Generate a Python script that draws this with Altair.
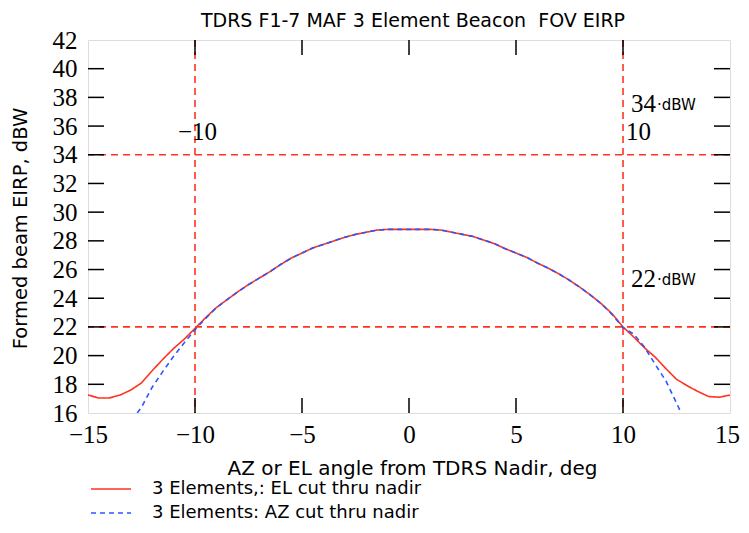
import altair as alt
import pandas as pd

# ---- data ----
el_x = [-15.0, -14.5, -14.0, -13.5, -13.0, -12.5, -12.0, -11.5, -11.0, -10.5, -10.0,
        -9.5, -9.0, -8.5, -8.0, -7.5, -7.0, -6.5, -6.0, -5.5, -5.0, -4.5, -4.0, -3.5,
        -3.0, -2.5, -2.0, -1.5, -1.0, -0.5, 0.0, 0.5, 1.0, 1.5, 2.0, 2.5, 3.0, 3.5,
        4.0, 4.5, 5.0, 5.5, 6.0, 6.5, 7.0, 7.5, 8.0, 8.5, 9.0, 9.5, 10.0, 10.5, 11.0,
        11.5, 12.0, 12.5, 13.0, 13.5, 14.0, 14.5, 15.0]
el_y = [17.25, 17.05, 17.05, 17.25, 17.6, 18.1, 18.95, 19.75, 20.5, 21.15, 21.9,
        22.65, 23.35, 23.9, 24.45, 24.95, 25.4, 25.85, 26.35, 26.8, 27.15, 27.5, 27.75, 28.0,
        28.25, 28.45, 28.6, 28.75, 28.8, 28.8, 28.8, 28.8, 28.8, 28.75, 28.6, 28.45, 28.3, 28.05,
        27.8, 27.45, 27.15, 26.85, 26.45, 26.1, 25.7, 25.25, 24.75, 24.2, 23.6, 22.9, 22.0, 21.3, 20.55,
        19.9, 19.1, 18.35, 17.9, 17.5, 17.15, 17.1, 17.25]

az_x = [-12.7, -12.5, -12.0, -11.5, -11.0, -10.5, -10.0,
        -9.5, -9.0, -8.5, -8.0, -7.5, -7.0, -6.5, -6.0, -5.5, -5.0, -4.5, -4.0, -3.5,
        -3.0, -2.5, -2.0, -1.5, -1.0, -0.5, 0.0, 0.5, 1.0, 1.5, 2.0, 2.5, 3.0, 3.5,
        4.0, 4.5, 5.0, 5.5, 6.0, 6.5, 7.0, 7.5, 8.0, 8.5, 9.0, 9.5, 10.0, 10.5, 11.0,
        11.5, 12.0, 12.5, 12.72]
az_y = [16.0, 16.4, 17.8, 18.9, 19.95, 20.9, 21.8,
        22.6, 23.35, 23.9, 24.45, 24.95, 25.4, 25.85, 26.35, 26.8, 27.15, 27.5, 27.75, 28.0,
        28.25, 28.45, 28.6, 28.75, 28.8, 28.8, 28.8, 28.8, 28.8, 28.75, 28.6, 28.45, 28.3, 28.05,
        27.8, 27.45, 27.15, 26.85, 26.45, 26.1, 25.7, 25.25, 24.75, 24.2, 23.6, 22.85, 21.95, 21.5, 20.6,
        19.4, 18.25, 16.7, 16.0]

series_names = ["3 Elements,: EL cut thru nadir", "3 Elements: AZ cut thru nadir"]
series_colors = ["#ff3320", "#2f55ff"]

x_marker_values = [-10, 10]
y_marker_values = [22, 34]

x_tick_values = [-15, -10, -5, 0, 5, 10, 15]
y_tick_values = [16, 18, 20, 22, 24, 26, 28, 30, 32, 34, 36, 38, 40, 42]
x_minor_ticks = [-10, -5, 0, 5, 10]
y_minor_ticks = [18, 20, 22, 24, 26, 28, 30, 32, 34, 36, 38, 40]

title_text = "TDRS F1-7 MAF 3 Element Beacon\u00a0\u00a0FOV EIRP"
x_title = "AZ or EL angle from TDRS Nadir, deg"
y_title = "Formed beam EIRP, dBW"

W, H = 642, 373
RED = "#ff3320"

curves = pd.concat([
    pd.DataFrame({"x": el_x, "y": el_y, "series": series_names[0], "order": range(len(el_x))}),
    pd.DataFrame({"x": az_x, "y": az_y, "series": series_names[1], "order": range(len(az_x))}),
])

xs = alt.Scale(domain=[-15, 15], nice=False, zero=False)
ys = alt.Scale(domain=[16, 42], nice=False, zero=False)

x_axis = alt.Axis(values=x_tick_values, ticks=False, domain=False, grid=False,
                  labelFont="Liberation Serif", labelFontSize=25, labelColor="black",
                  labelPadding=9, labelFlush=False, labelOverlap=False,
                  labelOffset={"condition": {"test": "datum.value == 15", "value": -3},
                               "value": 0},
                  title=x_title, titleFont="DejaVu Sans",
                  titleFontSize=20, titleFontWeight="normal", titleColor="black",
                  titleX=W / 2 + 3, titleY=55, titleBaseline="middle")
y_axis = alt.Axis(values=y_tick_values, ticks=False, domain=False, grid=False,
                  labelFont="Liberation Serif", labelFontSize=25, labelColor="black",
                  labelPadding=11, labelFlush=False, labelOverlap=False,
                  title=y_title, titleFont="DejaVu Sans",
                  titleFontSize=19.5, titleFontWeight="normal", titleColor="black",
                  titleX=-68, titleY=188, titleAngle=-90, titleBaseline="middle")


def X(field="x"):
    return alt.X(f"{field}:Q", scale=xs, axis=x_axis)


def Y(field="y"):
    return alt.Y(f"{field}:Q", scale=ys, axis=y_axis)


legend = alt.Legend(
    title=None, orient="none", legendX=12, legendY=438, padding=0,
    symbolType="M-2,0L2,0", symbolSize=400, symbolStrokeWidth=1.6,
    labelOffset=30, rowPadding=4, labelFont="DejaVu Sans", labelFontSize=18,
    labelColor="black", labelLimit=500,
)

lines = alt.Chart(curves).mark_line(strokeWidth=1.6, clip=True).encode(
    x=X(), y=Y(),
    color=alt.Color("series:N", scale=alt.Scale(domain=series_names, range=series_colors),
                    legend=legend),
    strokeDash=alt.StrokeDash("series:N",
                              scale=alt.Scale(domain=series_names, range=[[1, 0], [5, 4]]),
                              legend=legend),
    order="order:Q",
)

vrules = alt.Chart(pd.DataFrame({"x": x_marker_values})).mark_rule(
    color=RED, strokeDash=[7, 5], strokeWidth=1.6).encode(x=X())
hrules = alt.Chart(pd.DataFrame({"y": y_marker_values})).mark_rule(
    color=RED, strokeDash=[7, 5], strokeWidth=1.6).encode(y=Y())

tick_style = dict(color="black", strokeWidth=1.5)
left_ticks = alt.Chart(pd.DataFrame({"y": y_minor_ticks})).mark_rule(**tick_style).encode(
    y=Y(), x=alt.value(0), x2=alt.value(16))
right_ticks = alt.Chart(pd.DataFrame({"y": y_minor_ticks})).mark_rule(**tick_style).encode(
    y=Y(), x=alt.value(W - 16), x2=alt.value(W))
top_ticks = alt.Chart(pd.DataFrame({"x": x_minor_ticks})).mark_rule(**tick_style).encode(
    x=X(), y=alt.value(0), y2=alt.value(15))
bottom_ticks = alt.Chart(pd.DataFrame({"x": x_minor_ticks})).mark_rule(**tick_style).encode(
    x=X(), y=alt.value(H - 15), y2=alt.value(H))

serif = dict(font="Liberation Serif", fontSize=25, color="black", baseline="middle", align="left")
sans_small = dict(font="DejaVu Sans", fontSize=15, color="black", baseline="middle", align="left")


def txt(label, xv, yv, style, dx, dy):
    return alt.Chart(pd.DataFrame({"x": [xv], "y": [yv], "t": [label]})).mark_text(
        dx=dx, dy=dy, **style).encode(x=X(), y=Y(), text="t:N")


ann = [
    txt("\u221210", -10, 34, serif, -17, -23),
    txt("10", 10, 34, serif, 3, -23),
    txt("34", 10, 34, serif, 8, -51),
    txt("\u00b7dBW", 10, 34, sans_small, 34, -50),
    txt("22", 10, 22, serif, 8, -48),
    txt("\u00b7dBW", 10, 22, sans_small, 34, -47),
]

chart = alt.layer(
    vrules, hrules, lines, left_ticks, right_ticks, top_ticks, bottom_ticks, *ann
).properties(
    width=W, height=H,
    title=alt.TitleParams(title_text, font="DejaVu Sans", fontSize=19, fontWeight="normal",
                          color="black", anchor="middle", offset=9, dx=4, dy=12),
    autosize=alt.AutoSizeParams(type="none"),
    padding={"left": 80, "top": 32, "right": 11, "bottom": 112},
).configure_axis(labelOverlap=False).configure_view(
    stroke="black", strokeWidth=2, strokeOpacity=1).configure(background="white")

chart.save("out.html", embed_options={"renderer": "svg", "actions": False})
